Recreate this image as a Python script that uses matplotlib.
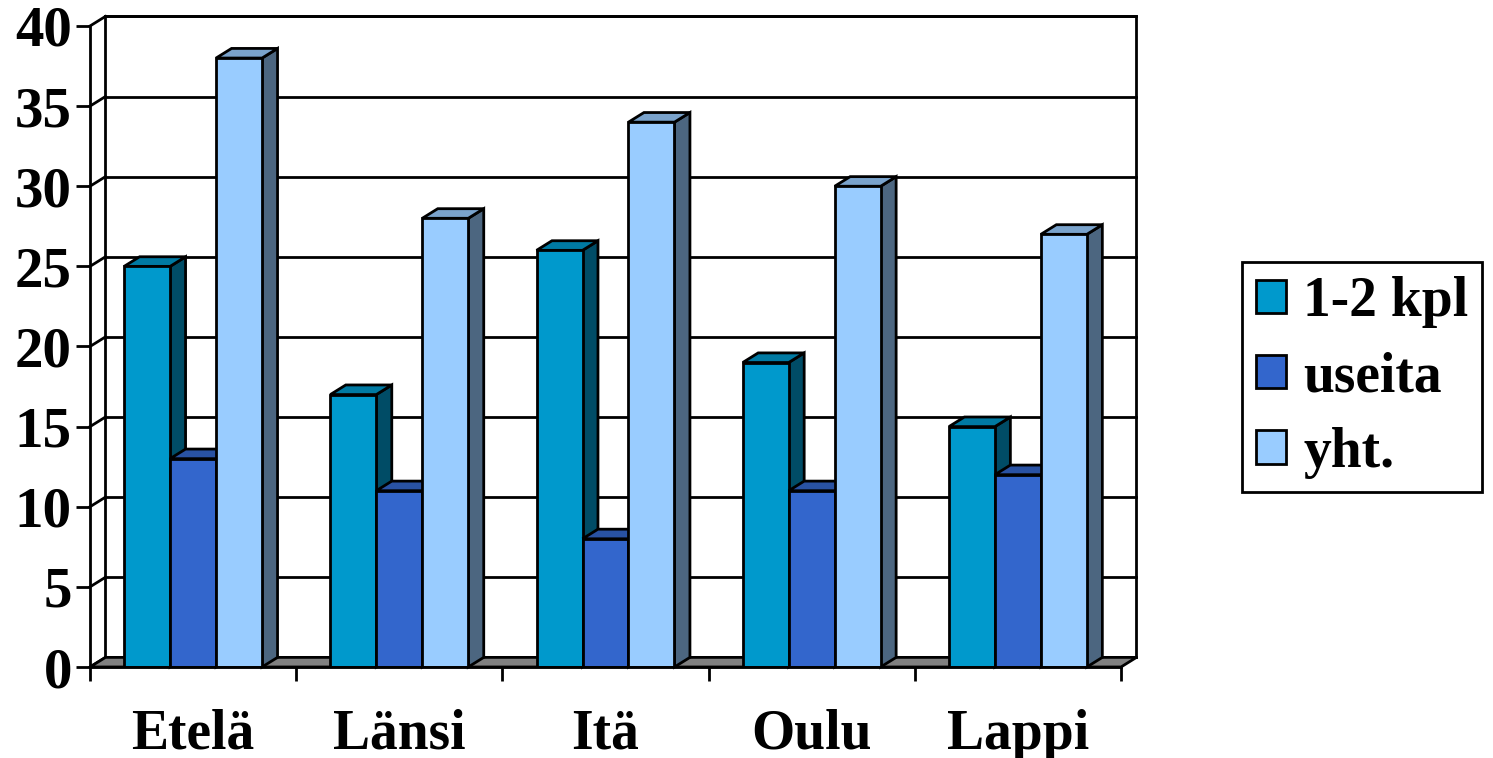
import numpy as np
import matplotlib
matplotlib.use("Agg")
import matplotlib.pyplot as plt
from matplotlib.patches import Polygon, Patch

plt.rcParams['font.family'] = ['Liberation Serif', 'DejaVu Serif']
plt.rcParams['font.weight'] = 'bold'

# data
categories = ["Etelä", "Länsi", "Itä", "Oulu", "Lappi"]
series_names = ["1-2 kpl", "useita", "yht."]
kpl_1_2 = [25, 17, 26, 19, 15]
useita = [13, 11, 8, 11, 12]
yht = [38, 28, 34, 30, 27]
series_values = [kpl_1_2, useita, yht]

front_colors = ["#0099CC", "#3366CC", "#99CCFF"]
top_colors = ["#007AA3", "#2952A3", "#7AA3CC"]
side_colors = ["#004C66", "#1A3366", "#4C6680"]

W, H = 1493, 758
fig = plt.figure(figsize=(W / 100, H / 100), dpi=100)
ax = fig.add_axes([90 / W, (H - 667) / H, 1031 / W, 641 / H])
ax.set_xlim(0, 5)
ax.set_ylim(0, 40)
for s in ax.spines.values():
    s.set_visible(False)

dx, dy = 0.075, 0.6   # depth offset in data units
lw = 2.0
ymax = 40

# back wall and left wall
ax.add_patch(Polygon([(dx, dy), (5 + dx, dy), (5 + dx, ymax + dy), (dx, ymax + dy)],
                     closed=True, facecolor="white", edgecolor="black", lw=lw,
                     clip_on=False, zorder=0))
for v in range(0, ymax + 1, 5):
    ax.plot([dx, 5 + dx], [v + dy, v + dy], color="black", lw=lw, clip_on=False, zorder=1)
    ax.plot([0, dx], [v, v + dy], color="black", lw=lw, clip_on=False, zorder=1)
ax.plot([0, 0], [0, ymax], color="black", lw=lw, clip_on=False, zorder=1)

# floor
ax.add_patch(Polygon([(0, 0), (5, 0), (5 + dx, dy), (dx, dy)], closed=True,
                     facecolor="#808080", edgecolor="black", lw=lw,
                     clip_on=False, zorder=2))

# bars
bw = 0.223
x = np.arange(len(categories)) + 0.5
z = 3
for i, vals in enumerate(series_values):
    xs = x + (i - 1) * bw
    for xc, v in zip(xs, vals):
        x0, x1 = xc - bw / 2, xc + bw / 2
        ax.add_patch(Polygon([(x1, 0), (x1 + dx, dy), (x1 + dx, v + dy), (x1, v)],
                             closed=True, facecolor=side_colors[i], edgecolor="black",
                             lw=lw, clip_on=False, zorder=z))
        ax.add_patch(Polygon([(x0, v), (x1, v), (x1 + dx, v + dy), (x0 + dx, v + dy)],
                             closed=True, facecolor=top_colors[i], edgecolor="black",
                             lw=lw, clip_on=False, zorder=z))
    ax.bar(xs, vals, width=bw, color=front_colors[i], edgecolor="black", lw=lw,
           zorder=z + 1)
    z += 2

ax.plot([0, 5], [0, 0], color="black", lw=lw, clip_on=False, zorder=20)

# ticks
ax.set_yticks(range(0, ymax + 1, 5))
ax.tick_params(axis="y", length=10, width=lw, pad=3, labelsize=41)
ax.set_xticks(x)
ax.set_xticklabels(categories)
ax.tick_params(axis="x", which="major", length=0, pad=30, labelsize=40)
ax.set_xticks(np.arange(0, 6), minor=True)
ax.tick_params(axis="x", which="minor", length=10, width=lw)

handles = [Patch(facecolor=c, edgecolor="black", lw=lw) for c in front_colors]
leg = fig.legend(handles, series_names, loc="upper left",
                 bbox_to_anchor=(1242 / W, 1 - 262 / H), borderaxespad=0,
                 fontsize=40, frameon=True, fancybox=False, framealpha=1,
                 handlelength=0.55, handleheight=0.55, handletextpad=0.3,
                 labelspacing=0.42, borderpad=0.25)
leg.get_frame().set_edgecolor("black")
leg.get_frame().set_linewidth(lw)

fig.savefig("out.png", dpi=100)
